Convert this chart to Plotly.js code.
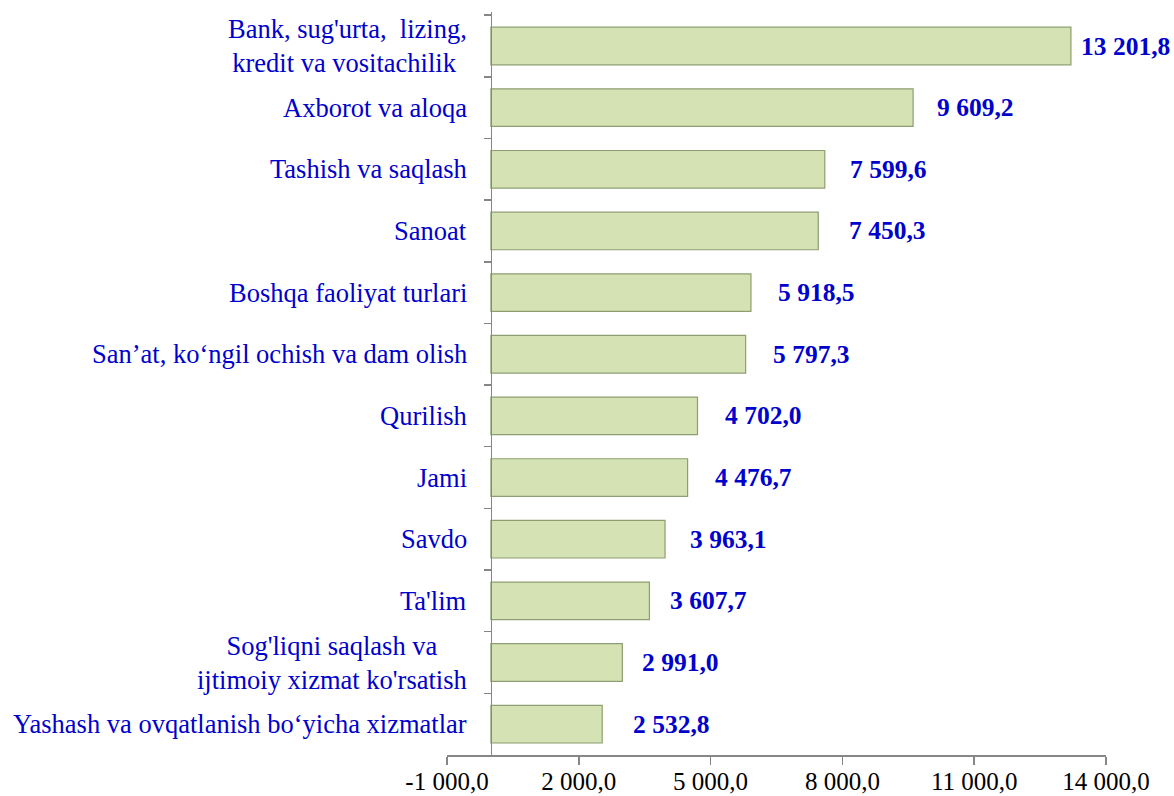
<!DOCTYPE html>
<html>
<head>
<meta charset="utf-8">
<script src="https://cdn.plot.ly/plotly-3.0.1.min.js"></script>
<style>
  html, body { margin: 0; padding: 0; background: #ffffff; }
  #chart { width: 1174px; height: 796px; }
</style>
</head>
<body>
<div id="chart"></div>
<script>
// Categories, listed from top to bottom as in the chart
const categories = [
  "Bank, sug'urta,\u00a0 lizing,<br>kredit va vositachilik\u00a0",
  "Axborot va aloqa",
  "Tashish va saqlash",
  "Sanoat",
  "Boshqa faoliyat turlari",
  "San\u2019at, ko\u2018ngil ochish va dam olish",
  "Qurilish",
  "Jami",
  "Savdo",
  "Ta'lim",
  "Sog'liqni saqlash va<br>ijtimoiy xizmat ko'rsatish",
  "Yashash va ovqatlanish bo\u2018yicha xizmatlar"
];

const values = [13201.8, 9609.2, 7599.6, 7450.3, 5918.5, 5797.3, 4702.0, 4476.7, 3963.1, 3607.7, 2991.0, 2532.8];

const xTickValues = [-1000, 2000, 5000, 8000, 11000, 14000];

// Styling: horizontal gap (px) between bar end and its value label
const labelGap = [8, 22, 23, 29, 25, 25, 25, 25, 23, 19, 18, 29];

function fmt(v) {
  const neg = v < 0;
  const s = Math.abs(v).toFixed(1);
  let [ip, dp] = s.split('.');
  ip = ip.replace(/\B(?=(\d{3})+(?!\d))/g, ' ');
  return (neg ? '-' : '') + ip + ',' + dp;
}

const serif = 'Liberation Serif, Times New Roman, serif';
const blue = '#0000CC';
const axisGray = '#868686';

const ids = categories.map((c, i) => 'c' + i);

const trace = {
  type: 'bar',
  orientation: 'h',
  x: values,
  y: ids,
  marker: {
    color: '#d4e2b4',
    line: { color: '#8e9e72', width: 1.2 }
  },
  hoverinfo: 'skip'
};

const annotations = [];
categories.forEach((c, i) => {
  annotations.push({
    xref: 'x', yref: 'y',
    x: 0, y: ids[i],
    text: c,
    showarrow: false,
    xanchor: 'right', yanchor: 'middle',
    align: 'center',
    xshift: -22,
    font: { family: serif, size: 26.5, color: blue }
  });
  annotations.push({
    xref: 'x', yref: 'y',
    x: values[i], y: ids[i],
    text: '<b>' + fmt(values[i]) + '</b>',
    showarrow: false,
    xanchor: 'left', yanchor: 'middle',
    xshift: labelGap[i],
    font: { family: serif, size: 25.5, color: blue }
  });
});

const layout = {
  width: 1174,
  height: 796,
  margin: { l: 447, r: 68, t: 12, b: 41, pad: 0 },
  paper_bgcolor: '#ffffff',
  plot_bgcolor: '#ffffff',
  showlegend: false,
  bargap: 0.39,
  xaxis: {
    range: [-1000, 14000],
    tickvals: xTickValues,
    ticktext: xTickValues.map(fmt),
    ticks: 'outside',
    ticklen: 8,
    tickwidth: 1.5,
    tickcolor: axisGray,
    showline: true,
    linecolor: axisGray,
    linewidth: 1.5,
    showgrid: false,
    zeroline: false,
    ticklabelstandoff: -5,
    tickfont: { family: serif, size: 25, color: '#000000' },
    fixedrange: true
  },
  yaxis: {
    type: 'category',
    categoryorder: 'array',
    categoryarray: ids,
    autorange: 'reversed',
    anchor: 'free',
    position: 1000 / 15000,
    showline: true,
    linecolor: axisGray,
    linewidth: 1.5,
    ticks: 'outside',
    tickson: 'boundaries',
    ticklen: 7,
    tickwidth: 1.5,
    tickcolor: axisGray,
    showticklabels: false,
    showgrid: false,
    zeroline: false,
    fixedrange: true
  },
  annotations: annotations
};

Plotly.newPlot('chart', [trace], layout, { displayModeBar: false, staticPlot: true });
</script>
</body>
</html>
